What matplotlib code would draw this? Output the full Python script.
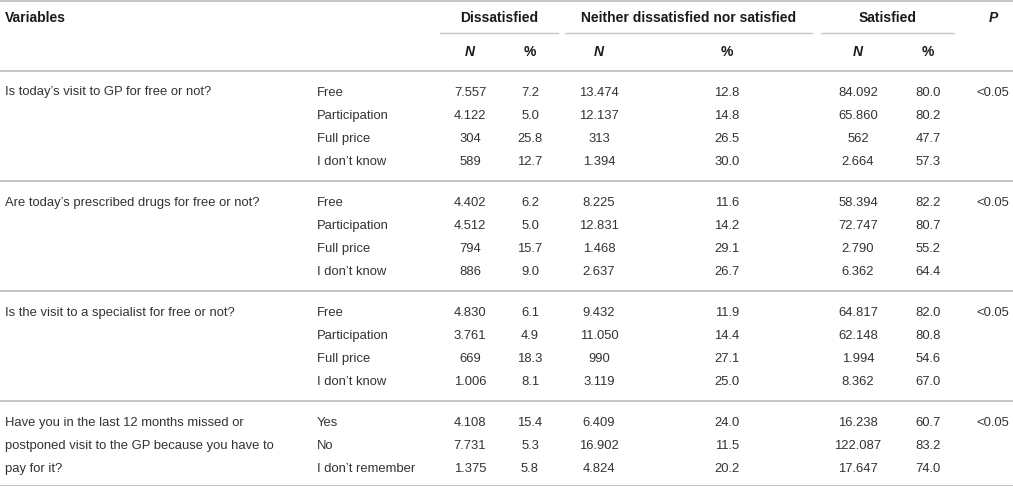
import matplotlib
matplotlib.use("Agg")
import matplotlib.pyplot as plt

plt.rcParams["font.family"] = ["Liberation Sans", "DejaVu Sans"]

questions = [
    "Is today’s visit to GP for free or not?",
    "Are today’s prescribed drugs for free or not?",
    "Is the visit to a specialist for free or not?",
    "Have you in the last 12 months missed or\npostponed visit to the GP because you have to\npay for it?",
]
answers = [
    ["Free", "Participation", "Full price", "I don’t know"],
    ["Free", "Participation", "Full price", "I don’t know"],
    ["Free", "Participation", "Full price", "I don’t know"],
    ["Yes", "No", "I don’t remember"],
]
dis_n = [[7557, 4122, 304, 589], [4402, 4512, 794, 886],
         [4830, 3761, 669, 1006], [4108, 7731, 1375]]
dis_pct = [[7.2, 5.0, 25.8, 12.7], [6.2, 5.0, 15.7, 9.0],
           [6.1, 4.9, 18.3, 8.1], [15.4, 5.3, 5.8]]
nei_n = [[13474, 12137, 313, 1394], [8225, 12831, 1468, 2637],
         [9432, 11050, 990, 3119], [6409, 16902, 4824]]
nei_pct = [[12.8, 14.8, 26.5, 30.0], [11.6, 14.2, 29.1, 26.7],
           [11.9, 14.4, 27.1, 25.0], [24.0, 11.5, 20.2]]
sat_n = [[84092, 65860, 562, 2664], [58394, 72747, 2790, 6362],
         [64817, 62148, 1994, 8362], [16238, 122087, 17647]]
sat_pct = [[80.0, 80.2, 47.7, 57.3], [82.2, 80.7, 55.2, 64.4],
           [82.0, 80.8, 54.6, 67.0], [60.7, 83.2, 74.0]]
p_values = ["<0.05", "<0.05", "<0.05", "<0.05"]

groups = ["Dissatisfied", "Neither dissatisfied nor satisfied", "Satisfied"]


def fmt_n(v):
    return f"{v:,}".replace(",", ".")


W, H = 1013, 486
fig = plt.figure(figsize=(W / 100, H / 100), dpi=100)
ax = fig.add_axes([0, 0, 1, 1])
ax.set_xlim(0, W)
ax.set_ylim(H, 0)
ax.axis("off")

txt = "#333333"
hdr = "#1a1a1a"
line_c = "#c4c4c4"
fs = 9.4
fs_h = 10
off = 4.5  # baseline shift from row centre

# column centres
col_x = [470, 530, 599, 727, 858, 928]
p_x = 993
grp_x = [(440, 558), (565, 812), (821, 954)]

# header
ax.axhline(1.5, color=line_c, lw=1.4)
ax.text(5, 18 + off, "Variables", fontsize=fs_h, fontweight="bold", color=hdr, va="baseline")
for name, (a, b) in zip(groups, grp_x):
    ax.text((a + b) / 2, 18 + off, name, fontsize=fs_h, fontweight="bold", color=hdr,
            ha="center", va="baseline")
    ax.plot([a, b], [33, 33], color=line_c, lw=1.0)
ax.text(p_x, 18 + off, "P", fontsize=fs_h, fontweight="bold", fontstyle="italic",
        color=hdr, ha="center", va="baseline")
for i, x in enumerate(col_x):
    lab = "N" if i % 2 == 0 else "%"
    ax.text(x, 52 + off, lab, fontsize=fs_h, fontweight="bold",
            fontstyle="italic" if lab == "N" else "normal",
            color=hdr, ha="center", va="baseline")
ax.axhline(71, color=line_c, lw=1.4)

# body
pitch = 23.3
gap = 16.8
y = 91
for g in range(len(questions)):
    y_first = y
    lines = questions[g].split("\n")
    for k, ln in enumerate(lines):
        ax.text(5, y_first + k * pitch + off, ln, fontsize=fs, color=txt, va="baseline")
    ax.text(p_x, y_first + off, p_values[g], fontsize=fs, color=txt, ha="center", va="baseline")
    for r, ans in enumerate(answers[g]):
        ax.text(317, y + off, ans, fontsize=fs, color=txt, va="baseline")
        vals = [fmt_n(dis_n[g][r]), f"{dis_pct[g][r]:.1f}",
                fmt_n(nei_n[g][r]), f"{nei_pct[g][r]:.1f}",
                fmt_n(sat_n[g][r]), f"{sat_pct[g][r]:.1f}"]
        for x, v in zip(col_x, vals):
            ax.text(x, y + off, v, fontsize=fs, color=txt, ha="center", va="baseline")
        y += pitch
    y_last = y - pitch
    if g < len(questions) - 1:
        ax.axhline(y_last + (pitch + gap) / 2, color=line_c, lw=1.4)
        y = y_last + pitch + gap
    else:
        ax.axhline(y_last + 18, color=line_c, lw=1.4)

fig.savefig("out.png", dpi=100)
